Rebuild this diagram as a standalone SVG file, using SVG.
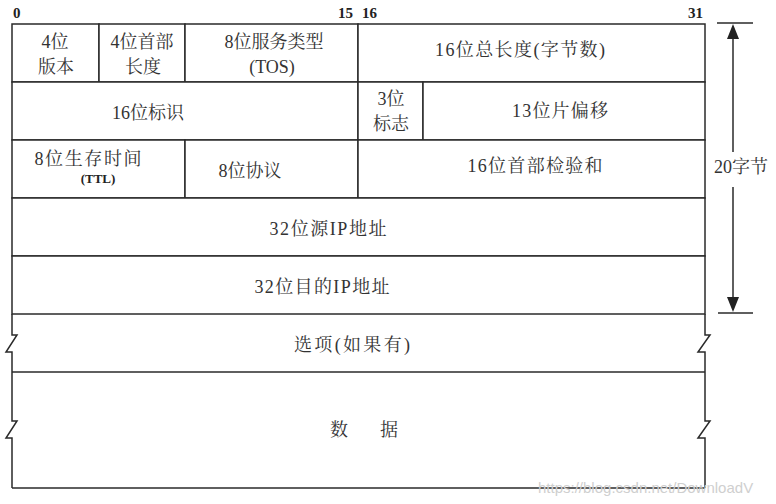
<svg xmlns="http://www.w3.org/2000/svg" width="776" height="504" viewBox="0 0 776 504">
<style>
.ln{stroke:#2a2a2a;stroke-width:1.5;fill:none}
.cell{fill:#ffffff;stroke:#2a2a2a;stroke-width:1.5}
.t{font-family:"Liberation Serif","Noto Serif CJK SC","Noto Sans CJK SC",serif;font-size:18px;fill:#333;text-anchor:middle}
.n{font-family:"Liberation Serif",serif;font-size:15px;font-weight:bold;fill:#222}
.b{font-family:"Liberation Serif",serif;font-size:13px;font-weight:bold;fill:#222;text-anchor:middle}
.wm{font-family:"Liberation Sans",sans-serif;font-size:15px;fill:#cfcfcf}
</style>
<rect width="776" height="504" fill="#ffffff"/>
<g id="bit-labels">
<text class="n" x="13" y="18">0</text>
<text class="n" x="338" y="18">15</text>
<text class="n" x="362" y="18">16</text>
<text class="n" x="688" y="18">31</text>
</g>
<g id="version"><rect class="cell" x="12" y="24" width="87" height="58"/><text class="t" x="55" y="48">4位</text><text class="t" x="56" y="73">版本</text></g>
<g id="ihl"><rect class="cell" x="99" y="24" width="86" height="58"/><text class="t" x="142" y="48">4位首部</text><text class="t" x="143" y="73">长度</text></g>
<g id="tos"><rect class="cell" x="185" y="24" width="173" height="58"/><text class="t" x="274" y="48">8位服务类型</text><text class="t" x="272" y="73">(TOS)</text></g>
<g id="total-length"><rect class="cell" x="358" y="24" width="347" height="58"/><text class="t" x="520" y="56" textLength="170" lengthAdjust="spacing">16位总长度(字节数)</text></g>
<g id="identification"><rect class="cell" x="12" y="82" width="346" height="58"/><text class="t" x="148" y="119">16位标识</text></g>
<g id="flags"><rect class="cell" x="358" y="82" width="65" height="58"/><text class="t" x="391" y="105">3位</text><text class="t" x="391" y="130">标志</text></g>
<g id="fragment-offset"><rect class="cell" x="423" y="82" width="282" height="58"/><text class="t" x="560" y="117" textLength="96" lengthAdjust="spacing">13位片偏移</text></g>
<g id="ttl"><rect class="cell" x="12" y="140" width="173" height="58"/><text class="t" x="88" y="165" textLength="107" lengthAdjust="spacing">8位生存时间</text><text class="b" x="98" y="183">(TTL)</text></g>
<g id="protocol"><rect class="cell" x="185" y="140" width="173" height="58"/><text class="t" x="250" y="177">8位协议</text></g>
<g id="checksum"><rect class="cell" x="358" y="140" width="347" height="58"/><text class="t" x="535" y="172" textLength="135" lengthAdjust="spacing">16位首部检验和</text></g>
<g id="src-ip"><rect class="cell" x="12" y="198" width="693" height="58"/><text class="t" x="328" y="235" textLength="117" lengthAdjust="spacing">32位源IP地址</text></g>
<g id="dst-ip"><rect class="cell" x="12" y="256" width="693" height="58"/><text class="t" x="322" y="293" textLength="135" lengthAdjust="spacing">32位目的IP地址</text></g>
<g id="options"><path class="ln" d="M12,372 H705"/><text class="t" x="352" y="351" textLength="116" lengthAdjust="spacing">选项(如果有)</text></g>
<g id="data"><path class="ln" d="M12,488 H705"/><text class="t" x="364" y="436" textLength="68" lengthAdjust="spacing">数 据</text></g>
<g id="edges">
<path class="ln" d="M12,314 V335 L17,335 L6,352 L12,352 V421 L17,421 L6,438 L12,438 V488"/>
<path class="ln" d="M705,314 V335 L710,335 L698,352 L705,352 V421 L710,421 L698,438 L705,438 V488"/>
</g>
<g id="connectors">
<path class="ln" d="M717,23 H753"/>
<path class="ln" d="M718,313 H753"/>
<path class="ln" d="M733,30 V152"/>
<path class="ln" d="M733,187 V305"/>
<polygon points="733,24 727,39 739,39" fill="#222"/>
<polygon points="733,312 727,297 739,297" fill="#222"/>
<text class="t" x="741" y="173">20字节</text>
</g>
<text class="wm" x="538" y="493">https://blog.csdn.net/DownloadV</text>
</svg>
